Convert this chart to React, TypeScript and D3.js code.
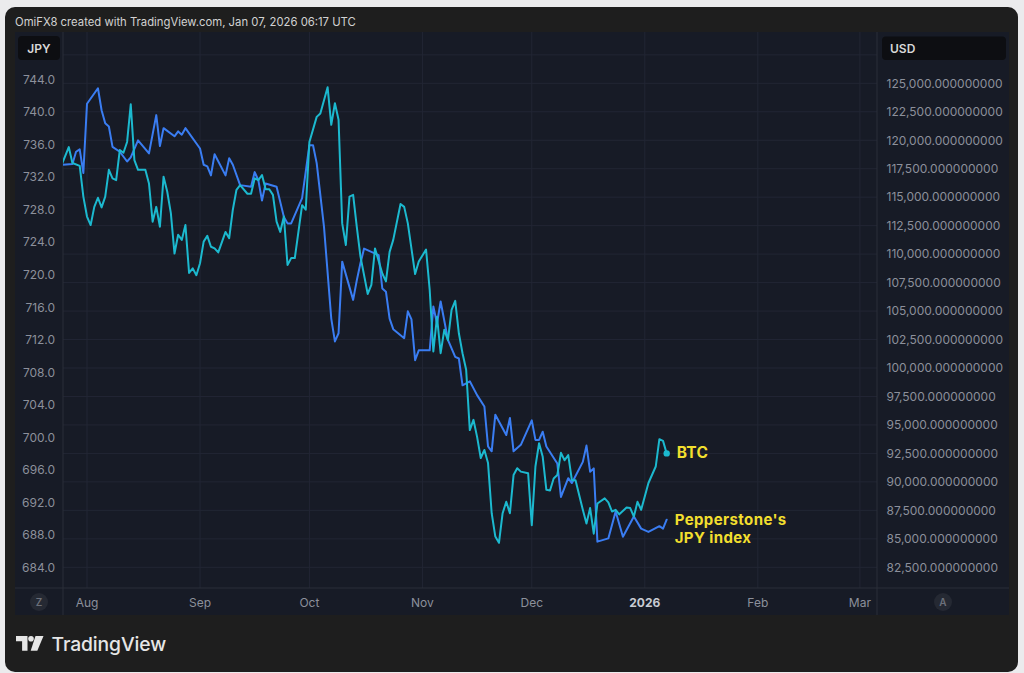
import * as d3 from "d3";

// Pepperstone's JPY index (left scale, JPY)
const jpyDates = [
  "2025-07-25", "2025-07-28", "2025-07-29", "2025-07-30", "2025-07-31", "2025-08-01", "2025-08-04", "2025-08-05",
  "2025-08-06", "2025-08-07", "2025-08-08", "2025-08-10", "2025-08-12", "2025-08-13", "2025-08-15", "2025-08-18",
  "2025-08-20", "2025-08-21", "2025-08-22", "2025-08-25", "2025-08-26", "2025-08-27", "2025-08-28", "2025-09-01",
  "2025-09-02", "2025-09-03", "2025-09-04", "2025-09-05", "2025-09-08", "2025-09-09", "2025-09-10", "2025-09-12",
  "2025-09-15", "2025-09-16", "2025-09-17", "2025-09-18", "2025-09-19", "2025-09-22", "2025-09-24", "2025-09-25",
  "2025-09-26", "2025-09-29", "2025-10-01", "2025-10-02", "2025-10-03", "2025-10-05", "2025-10-07", "2025-10-08",
  "2025-10-09", "2025-10-10", "2025-10-13", "2025-10-14", "2025-10-15", "2025-10-16", "2025-10-20", "2025-10-21",
  "2025-10-22", "2025-10-23", "2025-10-24", "2025-10-27", "2025-10-28", "2025-10-29", "2025-10-30", "2025-10-31",
  "2025-11-03", "2025-11-04", "2025-11-05", "2025-11-06", "2025-11-08", "2025-11-10", "2025-11-11", "2025-11-12",
  "2025-11-14", "2025-11-16", "2025-11-18", "2025-11-19", "2025-11-20", "2025-11-21", "2025-11-24", "2025-11-25",
  "2025-11-26", "2025-11-28", "2025-12-01", "2025-12-02", "2025-12-03", "2025-12-04", "2025-12-05", "2025-12-08",
  "2025-12-09", "2025-12-11", "2025-12-12", "2025-12-15", "2025-12-16", "2025-12-17", "2025-12-18", "2025-12-19",
  "2025-12-22", "2025-12-24", "2025-12-26", "2025-12-29", "2025-12-31", "2026-01-02", "2026-01-05", "2026-01-06",
  "2026-01-07",
];
const jpyValues = [
  733.5, 733.6, 735.1, 735.4, 732.5, 741.0, 742.9, 740.2,
  738.6, 738.2, 735.7, 735.1, 733.9, 734.4, 736.5, 734.9,
  739.6, 735.8, 738.0, 737.0, 737.6, 737.2, 738.0, 735.5,
  733.5, 733.3, 732.2, 734.8, 732.2, 734.3, 733.5, 731.0,
  730.8, 732.6, 731.6, 729.1, 731.2, 730.8, 727.1, 726.3,
  726.3, 729.4, 735.9, 735.9, 733.7, 725.9, 714.6, 711.8,
  712.8, 721.6, 716.9, 719.3, 721.4, 723.2, 722.4, 718.3,
  717.9, 714.6, 713.3, 712.2, 715.5, 714.5, 709.5, 710.7,
  710.7, 716.1, 714.0, 716.7, 712.0, 709.9, 709.7, 706.4,
  706.9, 705.2, 703.8, 698.9, 698.3, 702.8, 700.3, 702.4,
  698.3, 699.1, 702.1, 699.7, 699.7, 700.7, 698.9, 696.8,
  692.7, 695.0, 694.4, 697.0, 699.0, 695.8, 696.2, 687.2,
  687.6, 690.9, 687.8, 690.3, 688.8, 688.4, 689.1, 688.8,
  689.9,
];

// BTC (right scale, USD)
const btcDates = [
  "2025-07-25", "2025-07-27", "2025-07-28", "2025-07-30", "2025-07-31", "2025-08-01", "2025-08-02", "2025-08-03",
  "2025-08-04", "2025-08-05", "2025-08-06", "2025-08-07", "2025-08-08", "2025-08-09", "2025-08-10", "2025-08-11",
  "2025-08-12", "2025-08-13", "2025-08-14", "2025-08-15", "2025-08-17", "2025-08-18", "2025-08-19", "2025-08-20",
  "2025-08-21", "2025-08-22", "2025-08-23", "2025-08-24", "2025-08-25", "2025-08-26", "2025-08-27", "2025-08-28",
  "2025-08-29", "2025-08-30", "2025-08-31", "2025-09-01", "2025-09-02", "2025-09-03", "2025-09-04", "2025-09-05",
  "2025-09-06", "2025-09-08", "2025-09-09", "2025-09-10", "2025-09-11", "2025-09-12", "2025-09-14", "2025-09-15",
  "2025-09-16", "2025-09-17", "2025-09-18", "2025-09-19", "2025-09-20", "2025-09-21", "2025-09-22", "2025-09-23",
  "2025-09-24", "2025-09-25", "2025-09-26", "2025-09-27", "2025-09-29", "2025-09-30", "2025-10-01", "2025-10-03",
  "2025-10-04", "2025-10-06", "2025-10-07", "2025-10-08", "2025-10-09", "2025-10-10", "2025-10-11", "2025-10-12",
  "2025-10-13", "2025-10-14", "2025-10-15", "2025-10-17", "2025-10-18", "2025-10-19", "2025-10-21", "2025-10-22",
  "2025-10-23", "2025-10-24", "2025-10-26", "2025-10-27", "2025-10-28", "2025-10-30", "2025-10-31", "2025-11-02",
  "2025-11-03", "2025-11-04", "2025-11-05", "2025-11-06", "2025-11-07", "2025-11-08", "2025-11-09", "2025-11-10",
  "2025-11-11", "2025-11-12", "2025-11-13", "2025-11-14", "2025-11-15", "2025-11-16", "2025-11-17", "2025-11-18",
  "2025-11-19", "2025-11-20", "2025-11-21", "2025-11-22", "2025-11-23", "2025-11-24", "2025-11-25", "2025-11-26",
  "2025-11-27", "2025-11-28", "2025-11-30", "2025-12-01", "2025-12-02", "2025-12-03", "2025-12-04", "2025-12-05",
  "2025-12-06", "2025-12-07", "2025-12-08", "2025-12-09", "2025-12-10", "2025-12-11", "2025-12-12", "2025-12-13",
  "2025-12-15", "2025-12-16", "2025-12-17", "2025-12-18", "2025-12-19", "2025-12-21", "2025-12-22", "2025-12-23",
  "2025-12-24", "2025-12-25", "2025-12-27", "2025-12-28", "2025-12-29", "2025-12-30", "2025-12-31", "2026-01-02",
  "2026-01-04", "2026-01-05", "2026-01-06", "2026-01-07",
];
const btcValues = [
  117800, 119400, 118000, 117750, 115050, 113300, 112550, 114150,
  114950, 114100, 115050, 117400, 116650, 116500, 119150, 118900,
  119850, 123150, 118250, 117400, 117400, 116200, 112850, 114150,
  112400, 116800, 115500, 113600, 110050, 111700, 111250, 112550,
  108350, 108750, 108150, 109200, 111100, 111600, 110650, 110500,
  110150, 111950, 111400, 113900, 115650, 116050, 115300, 115300,
  116650, 116500, 116950, 115700, 115700, 115200, 112850, 111950,
  113300, 109050, 109650, 109650, 114300, 113900, 119850, 122050,
  122350, 124650, 121350, 123250, 121800, 112700, 110800, 115050,
  115200, 112400, 109800, 106500, 107300, 110500, 108300, 107600,
  110200, 111250, 114400, 114150, 112700, 108250, 109350, 110400,
  106850, 101450, 104500, 101300, 103350, 102450, 105100, 105900,
  103050, 101300, 99850, 94550, 95450, 93950, 92100, 92800,
  91650, 87250, 85200, 84650, 87250, 88250, 87250, 90600,
  91200, 90900, 90750, 86200, 91350, 93400, 92200, 89300,
  89250, 90300, 90600, 92550, 91900, 92350, 90150, 90150,
  87550, 86350, 87700, 85450, 88100, 88550, 88200, 87400,
  87550, 87150, 87750, 87700, 86950, 88250, 87550, 89900,
  91350, 93750, 93600, 92500,
];

const monthTicks = ["2025-08-01", "2025-09-01", "2025-10-01", "2025-11-01", "2025-12-01", "2026-01-01", "2026-02-01", "2026-03-01"];
const monthLabels = ["Aug", "Sep", "Oct", "Nov", "Dec", "2026", "Feb", "Mar"];
const jpyTicks = [684, 688, 692, 696, 700, 704, 708, 712, 716, 720, 724, 728, 732, 736, 740, 744];
const usdTicks = [82500, 85000, 87500, 90000, 92500, 95000, 97500, 100000, 102500, 105000, 107500, 110000, 112500, 115000, 117500, 120000, 122500, 125000];
const usdGridTicks = [...usdTicks, 127500];

const W = 1024;
const H = 673;
const FONT = "Inter, 'Noto Sans', sans-serif";

export default function App() {
  const parse = d3.utcParse("%Y-%m-%d");
  const plot = { left: 63, right: 877, top: 32, bottom: 588 };

  const x = d3
    .scaleUtc()
    .domain([parse("2025-08-01")!, parse("2026-03-01")!])
    .range([87, 859.9]);
  const yJpy = d3.scaleLinear().domain([684, 744]).range([567.7, 79.3]);
  const yUsd = d3.scaleLinear().domain([82500, 125000]).range([567.3, 83.3]);

  const jpy = jpyDates.map((d, i) => ({ date: parse(d)!, value: jpyValues[i] }));
  const btc = btcDates.map((d, i) => ({ date: parse(d)!, value: btcValues[i] }));

  const jpyLine = d3
    .line<{ date: Date; value: number }>()
    .x((d) => x(d.date))
    .y((d) => yJpy(d.value));
  const btcLine = d3
    .line<{ date: Date; value: number }>()
    .x((d) => x(d.date))
    .y((d) => yUsd(d.value));

  const lastBtc = btc[btc.length - 1];
  const lastJpy = jpy[jpy.length - 1];
  const fmtUsd = d3.format(",.9f");

  return (
    <svg
      width={W}
      height={H}
      style={{ position: "absolute", left: 0, top: 0, display: "block" }}
      fontFamily={FONT}
    >
      <defs>
        <clipPath id="plotClip">
          <rect x={plot.left} y={plot.top} width={plot.right - plot.left} height={plot.bottom - plot.top} />
        </clipPath>
      </defs>

      <rect width={W} height={H} fill="#ebebed" />
      <rect x={5} y={7} width={1013} height={665} rx={10} fill="#1e1e1e" />

      <text x={15} y={26} fill="#d2d2d2" fontSize="11.3">
        OmiFX8 created with TradingView.com, Jan 07, 2026 06:17 UTC
      </text>

      {/* chart panel */}
      <rect x={15} y={32} width={994} height={583} fill="#171b26" />

      {usdGridTicks.map((t) => (
        <line key={`hg-${t}`} x1={plot.left} x2={plot.right} y1={yUsd(t)} y2={yUsd(t)} stroke="#222634" strokeWidth={1} />
      ))}
      {monthTicks.map((m) => (
        <line key={`vg-${m}`} x1={x(parse(m)!)} x2={x(parse(m)!)} y1={plot.top} y2={plot.bottom} stroke="#222634" strokeWidth={1} />
      ))}

      <line x1={plot.left} x2={plot.left} y1={32} y2={615} stroke="#2a2e39" />
      <line x1={plot.right} x2={plot.right} y1={32} y2={615} stroke="#2a2e39" />
      <line x1={15} x2={1009} y1={plot.bottom} y2={plot.bottom} stroke="#2a2e39" />

      <g clipPath="url(#plotClip)" fill="none" strokeWidth={2} strokeLinejoin="round" strokeLinecap="round">
        <path d={jpyLine(jpy) ?? ""} stroke="#3a7df2" />
        <path d={btcLine(btc) ?? ""} stroke="#1cb9cf" />
      </g>
      <circle cx={x(lastBtc.date)} cy={yUsd(lastBtc.value)} r={3.2} fill="#1cb9cf" />

      <text x={x(lastBtc.date) + 10} y={yUsd(lastBtc.value) + 5} fill="#f2df2e" fontSize="15.5" fontWeight="700" letterSpacing="0.3">
        BTC
      </text>
      <text x={x(lastJpy.date) + 8} y={yJpy(lastJpy.value) + 5.5} fill="#f2df2e" fontSize="15" fontWeight="700" letterSpacing="0.4">
        Pepperstone's
      </text>
      <text x={x(lastJpy.date) + 8} y={yJpy(lastJpy.value) + 23.5} fill="#f2df2e" fontSize="15" fontWeight="700" letterSpacing="0.4">
        JPY index
      </text>

      {/* left axis */}
      <rect x={18} y={36} width={42} height={24} rx={4} fill="#0d0e12" />
      <text x={39} y={52.5} textAnchor="middle" fill="#d8d8d8" fontSize="12" fontWeight="600">
        JPY
      </text>
      {jpyTicks.map((t) => (
        <text key={`jl-${t}`} x={55} y={yJpy(t) + 4.3} textAnchor="end" fill="#8c909b" fontSize="12">
          {t.toFixed(1)}
        </text>
      ))}

      {/* right axis */}
      <rect x={882} y={36.5} width={124} height={23.5} rx={4} fill="#0d0e12" />
      <text x={890} y={52.5} fill="#d8d8d8" fontSize="12" fontWeight="600">
        USD
      </text>
      {usdTicks.map((t) => (
        <text key={`ul-${t}`} x={886.5} y={yUsd(t) + 4.3} fill="#8c909b" fontSize="12">
          {fmtUsd(t)}
        </text>
      ))}

      {/* time axis */}
      {monthTicks.map((m, i) => (
        <text
          key={`xl-${m}`}
          x={x(parse(m)!)}
          y={607}
          textAnchor="middle"
          fill={monthLabels[i] === "2026" ? "#c9ccd3" : "#8c909b"}
          fontSize="12"
          fontWeight={monthLabels[i] === "2026" ? 700 : 400}
        >
          {monthLabels[i]}
        </text>
      ))}

      <circle cx={39} cy={602} r={9} fill="#252933" />
      <text x={39} y={605.5} textAnchor="middle" fill="#6c707a" fontSize="10" fontWeight="600">
        Z
      </text>
      <circle cx={943} cy={602} r={9} fill="#252933" />
      <text x={943} y={605.5} textAnchor="middle" fill="#6c707a" fontSize="10" fontWeight="600">
        A
      </text>

      {/* TradingView logo */}
      <g fill="#e6e6e6">
        <path d="M16,636 h11.5 v14.7 h-5.4 v-9.4 h-6.1 z" />
        <circle cx={31} cy={638.8} r={2.8} />
        <path d="M35.5,636 h8 l-6.2,14.7 h-6.6 z" />
      </g>
      <text x={51.5} y={650.7} fill="#e6e6e6" fontSize="19.3" fontWeight="500" letterSpacing="-0.1">
        TradingView
      </text>
    </svg>
  );
}
